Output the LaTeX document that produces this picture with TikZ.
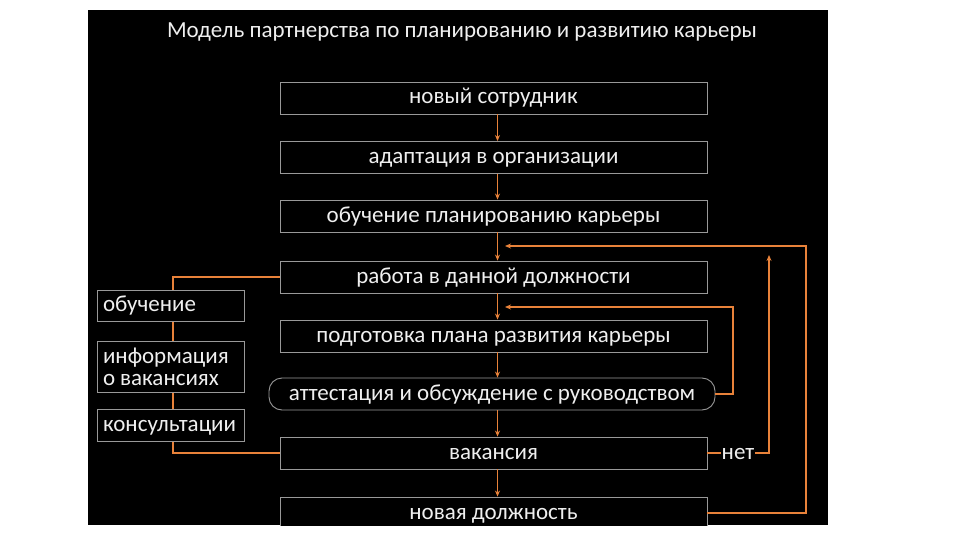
\documentclass[tikz,border=0pt]{standalone}
\usepackage{fontspec}
\setmainfont{Carlito}
\usetikzlibrary{arrows.meta}
\definecolor{orng}{HTML}{E8823A}
\definecolor{bordergray}{HTML}{999999}
\definecolor{txt}{HTML}{EFEFEF}
\tikzset{
  mainbox/.style={draw=bordergray, line width=0.9pt, fill=black, text=txt,
    minimum width=427, minimum height=32, inner sep=0pt, text height=14pt, text depth=2pt,
    font=\fontsize{23}{25}\selectfont},
  sidebox/.style={draw=bordergray, line width=0.9pt, fill=black, text=txt,
    text width=135, align=left, inner xsep=6, inner ysep=0pt, font=\fontsize{23}{23}\selectfont},
  flow/.style={draw=orng, line width=1.3pt, -{Stealth[length=6pt,width=5pt]}},
  link/.style={draw=orng, line width=1.3pt}
}
\begin{document}
\begin{tikzpicture}[x=1pt,y=-1pt]
\useasboundingbox (0,0) rectangle (960,540);
\fill[white] (0,0) rectangle (960,540);
\fill[black] (88,10) rectangle (828,525);
\begin{scope}
\clip (88,10) rectangle (828,525);
\node[text=txt, font=\fontsize{23}{25}\selectfont] (title) at (462,32) {Модель партнерства по планированию и развитию карьеры};
\coordinate (lc1) at (173,277);
\coordinate (lc2) at (173,453);
\coordinate (fb1) at (505,307);
\coordinate (fb3) at (505,246);
\coordinate (up2) at (769,255);
\node[mainbox] (b1) at (493.5,98) {новый сотрудник};
\node[mainbox] (b2) at (493.5,157.5) {адаптация в организации};
\node[mainbox] (b3) at (493.5,216) {обучение планированию карьеры};
\node[mainbox] (b4) at (493.5,277) {работа в данной должности};
\node[mainbox] (b5) at (493.5,336) {подготовка плана развития карьеры};
\node[mainbox, minimum width=446, rounded corners=13pt] (b6) at (492,394) {аттестация и обсуждение с руководством};
\node[mainbox] (b7) at (493.5,453) {вакансия};
\node[mainbox] (b8) at (493.5,513) {новая должность};
\draw[link] (b4.west) -- (lc1) -- (lc2) -- (b7.west);
\node[sidebox, minimum height=31, text height=14pt, text depth=2pt] (l1) at (170.5,305.5) {обучение};
\node[sidebox, minimum height=51, font=\fontsize{23}{22}\selectfont] (l2) at (170.5,366.5) {информация\\о\hspace{5pt}вакансиях};
\node[sidebox, minimum height=32, text height=14pt, text depth=2pt] (l3) at (170.5,425) {консультации};
\draw[flow] ([xshift=4]b1.south) -- ([xshift=4]b2.north);
\draw[flow] ([xshift=4]b2.south) -- ([xshift=4]b3.north);
\draw[flow] ([xshift=4]b3.south) -- ([xshift=4]b4.north);
\draw[flow] ([xshift=4]b4.south) -- ([xshift=4]b5.north);
\draw[flow] ([xshift=4]b5.south) -- ([xshift=5.5]b6.north);
\draw[flow] ([xshift=5.5]b6.south) -- ([xshift=4]b7.north);
\draw[flow] ([xshift=4]b7.south) -- ([xshift=4]b8.north);
\draw[flow] (b6.east) -- (733,394) |- (fb1);
\node[text=txt, font=\fontsize{23}{25}\selectfont, inner sep=1pt, text height=14pt, text depth=2pt] (net) at (738,453) {нет};
\draw[link] (b7.east) -- (net.west);
\draw[flow] (net.east) -| (up2);
\draw[flow] (b8.east) -| (806,246) -- (fb3);
\end{scope}
\end{tikzpicture}
\end{document}
